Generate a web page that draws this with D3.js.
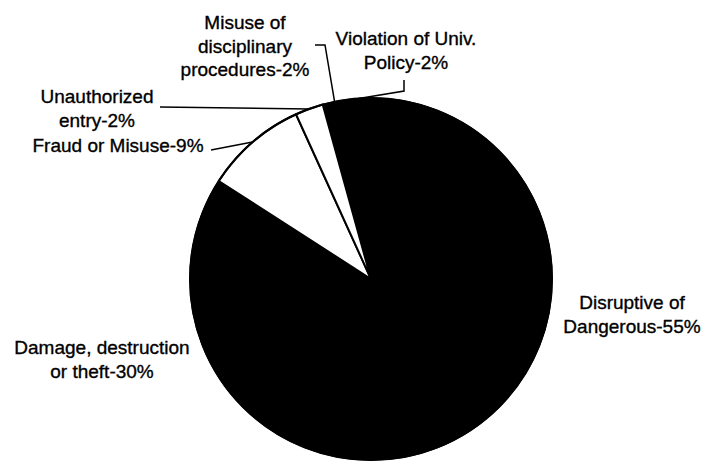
<!DOCTYPE html>
<html>
<head>
<meta charset="utf-8">
<script src="https://cdn.jsdelivr.net/npm/d3@7"></script>
<style>
  html, body { margin: 0; padding: 0; background: #fff; }
  text { font-family: "Liberation Sans", Arial, sans-serif; font-size: 19px; fill: #000; stroke: #000; stroke-width: 0.35px; }
</style>
</head>
<body>
<div id="chart"></div>
<script>
// categories in drawing order (clockwise from 12 o'clock)
const categories = ["Disruptive", "Damage", "Fraud", "Unauthorized", "Misuse", "Violation"];
// shares (percent)
const shares = [54.5, 29.6, 9.1, 2.5, 2.15, 2.15];
const labels = [
  ["Disruptive of", "Dangerous-55%"],
  ["Damage, destruction", "or theft-30%"],
  ["Fraud or Misuse-9%"],
  ["Unauthorized", "entry-2%"],
  ["Misuse of", "disciplinary", "procedures-2%"],
  ["Violation of Univ.", "Policy-2%"]
];
const fills = ["#000", "#000", "#fff", "#fff", "#000", "#000"];

// label layout: text centre x, first baseline y, leader points (label side)
const labelLayout = [
  { x: 632, y: 309, leader: null },
  { x: 102, y: 354, leader: null },
  { x: 118, y: 152, leader: [[211, 150]] },
  { x: 97, y: 103, leader: [[160, 107]] },
  { x: 245, y: 29, leader: [[315, 45], [325, 45]] },
  { x: 406, y: 45, leader: [[404, 80], [404, 91]] }
];

let width = 708,
    height = 464,
    cx = 371,
    cy = 279,
    radius = 181,
    lineHeight = 23.5;

let svg = d3.select("#chart").append("svg")
    .attr("width", width)
    .attr("height", height);

let data = categories.map((c, i) => ({ name: c, value: shares[i], fill: fills[i], label: labels[i], layout: labelLayout[i] }));

let pie = d3.pie()
    .sort(null)
    .value(d => d.value)
    .startAngle(0)
    .endAngle(2 * Math.PI);

let arc = d3.arc().innerRadius(0).outerRadius(radius);
let edgeArc = d3.arc().innerRadius(radius).outerRadius(radius);

let g = svg.append("g").attr("transform", `translate(${cx}, ${cy})`);

let arcs = pie(data);

/* slices: black ones first with matching stroke so no seams show */
g.selectAll("path.slice")
    .data(arcs.filter(d => d.data.fill === "#000")).enter()
    .append("path")
    .attr("class", "slice")
    .attr("d", arc)
    .style("fill", "#000")
    .style("stroke", "#000")
    .style("stroke-width", 1.5)
    .style("stroke-linejoin", "round");

g.selectAll("path.white")
    .data(arcs.filter(d => d.data.fill === "#fff")).enter()
    .append("path")
    .attr("class", "white")
    .attr("d", arc)
    .style("fill", "#fff")
    .style("stroke", "#000")
    .style("stroke-width", 2)
    .style("stroke-linejoin", "round");

/* outer edge */
g.append("circle")
    .attr("r", radius)
    .style("fill", "none")
    .style("stroke", "#000")
    .style("stroke-width", 2);

/* leader lines */
let line = d3.line();
arcs.forEach(d => {
  let lay = d.data.layout;
  if (!lay.leader) return;
  let p = edgeArc.centroid(d);
  let pts = lay.leader.concat([[p[0] + cx, p[1] + cy]]);
  svg.append("path")
      .attr("d", line(pts))
      .style("fill", "none")
      .style("stroke", "#000")
      .style("stroke-width", 1.5);
});

/* labels */
arcs.forEach(d => {
  let lay = d.data.layout;
  let t = svg.append("text")
      .attr("text-anchor", "middle")
      .attr("x", lay.x)
      .attr("y", lay.y);
  d.data.label.forEach((s, i) => {
    t.append("tspan")
        .attr("x", lay.x)
        .attr("y", lay.y + i * lineHeight)
        .text(s);
  });
});
</script>
</body>
</html>
